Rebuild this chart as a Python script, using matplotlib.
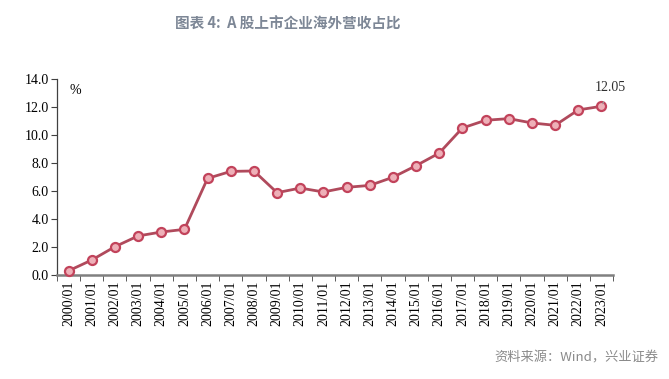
import matplotlib
matplotlib.use("Agg")
import matplotlib.pyplot as plt
import numpy as np

years = ["2000/01", "2001/01", "2002/01", "2003/01", "2004/01", "2005/01",
         "2006/01", "2007/01", "2008/01", "2009/01", "2010/01", "2011/01",
         "2012/01", "2013/01", "2014/01", "2015/01", "2016/01", "2017/01",
         "2018/01", "2019/01", "2020/01", "2021/01", "2022/01", "2023/01"]
share = [0.30, 1.07, 2.02, 2.79, 3.07, 3.26, 6.90, 7.40, 7.43, 5.88, 6.21, 5.93,
         6.26, 6.40, 6.98, 7.81, 8.71, 10.50, 11.05, 11.17, 10.86, 10.69, 11.79, 12.05]
y_ticks = [0, 2, 4, 6, 8, 10, 12, 14]

serif = "Liberation Serif"
cjk = ["Noto Sans CJK SC", "DejaVu Sans"]

fig = plt.figure(figsize=(6.69, 3.79), dpi=100)
ax = fig.add_axes([0.0852, 0.2744, 0.8311, 0.5172])

x = np.arange(len(years))
ax.plot(x, share, color="#b04a5c", lw=2.0, marker="o", markersize=6.5,
        markerfacecolor="#eeb0b8", markeredgecolor="#c2435b", markeredgewidth=1.6,
        zorder=3, clip_on=False)

ax.set_xlim(-0.5, len(years) - 0.5)
ax.set_ylim(0, 14)
ax.set_yticks(y_ticks)
ax.set_yticklabels([f"{v:.1f}" for v in y_ticks], fontfamily=serif, fontsize=10)

ax.set_xticks(x)
ax.set_xticklabels(years, rotation=90, fontfamily=serif, fontsize=10)
ax.set_xticks(np.arange(len(years) + 1) - 0.5, minor=True)
ax.tick_params(axis="x", which="major", length=0, pad=4)
ax.tick_params(axis="x", which="minor", length=4, direction="out", color="#404040")
ax.tick_params(axis="y", length=4, direction="out", color="#404040", pad=2)

for s in ["top", "right"]:
    ax.spines[s].set_visible(False)
ax.spines["left"].set_color("#404040")
ax.spines["left"].set_linewidth(0.9)
ax.spines["bottom"].set_color("#808080")
ax.spines["bottom"].set_linewidth(1.8)

ax.text(0.3, 13.2, "%", fontfamily=serif, fontsize=10, ha="center", va="center")

ax.annotate(f"{share[-1]:.2f}", xy=(x[-1], share[-1]), xytext=(x[-1] + 0.4, 13.4),
            fontfamily=serif, fontsize=10, color="#303030", ha="center", va="center",
            arrowprops=dict(arrowstyle="-", color="#a0a0a0", lw=0.8,
                            shrinkA=4, shrinkB=2))

fig.text(0.43, 0.937, "图表 4:  A 股上市企业海外营收占比", fontfamily=cjk,
         fontsize=10.5, fontweight="bold", color="#7d8796", ha="center", va="center")
fig.text(0.985, 0.055, "资料来源：Wind，兴业证券", fontfamily=cjk, fontsize=9.5,
         color="#8a8a8a", ha="right", va="center")

fig.savefig("out.png", dpi=100)
